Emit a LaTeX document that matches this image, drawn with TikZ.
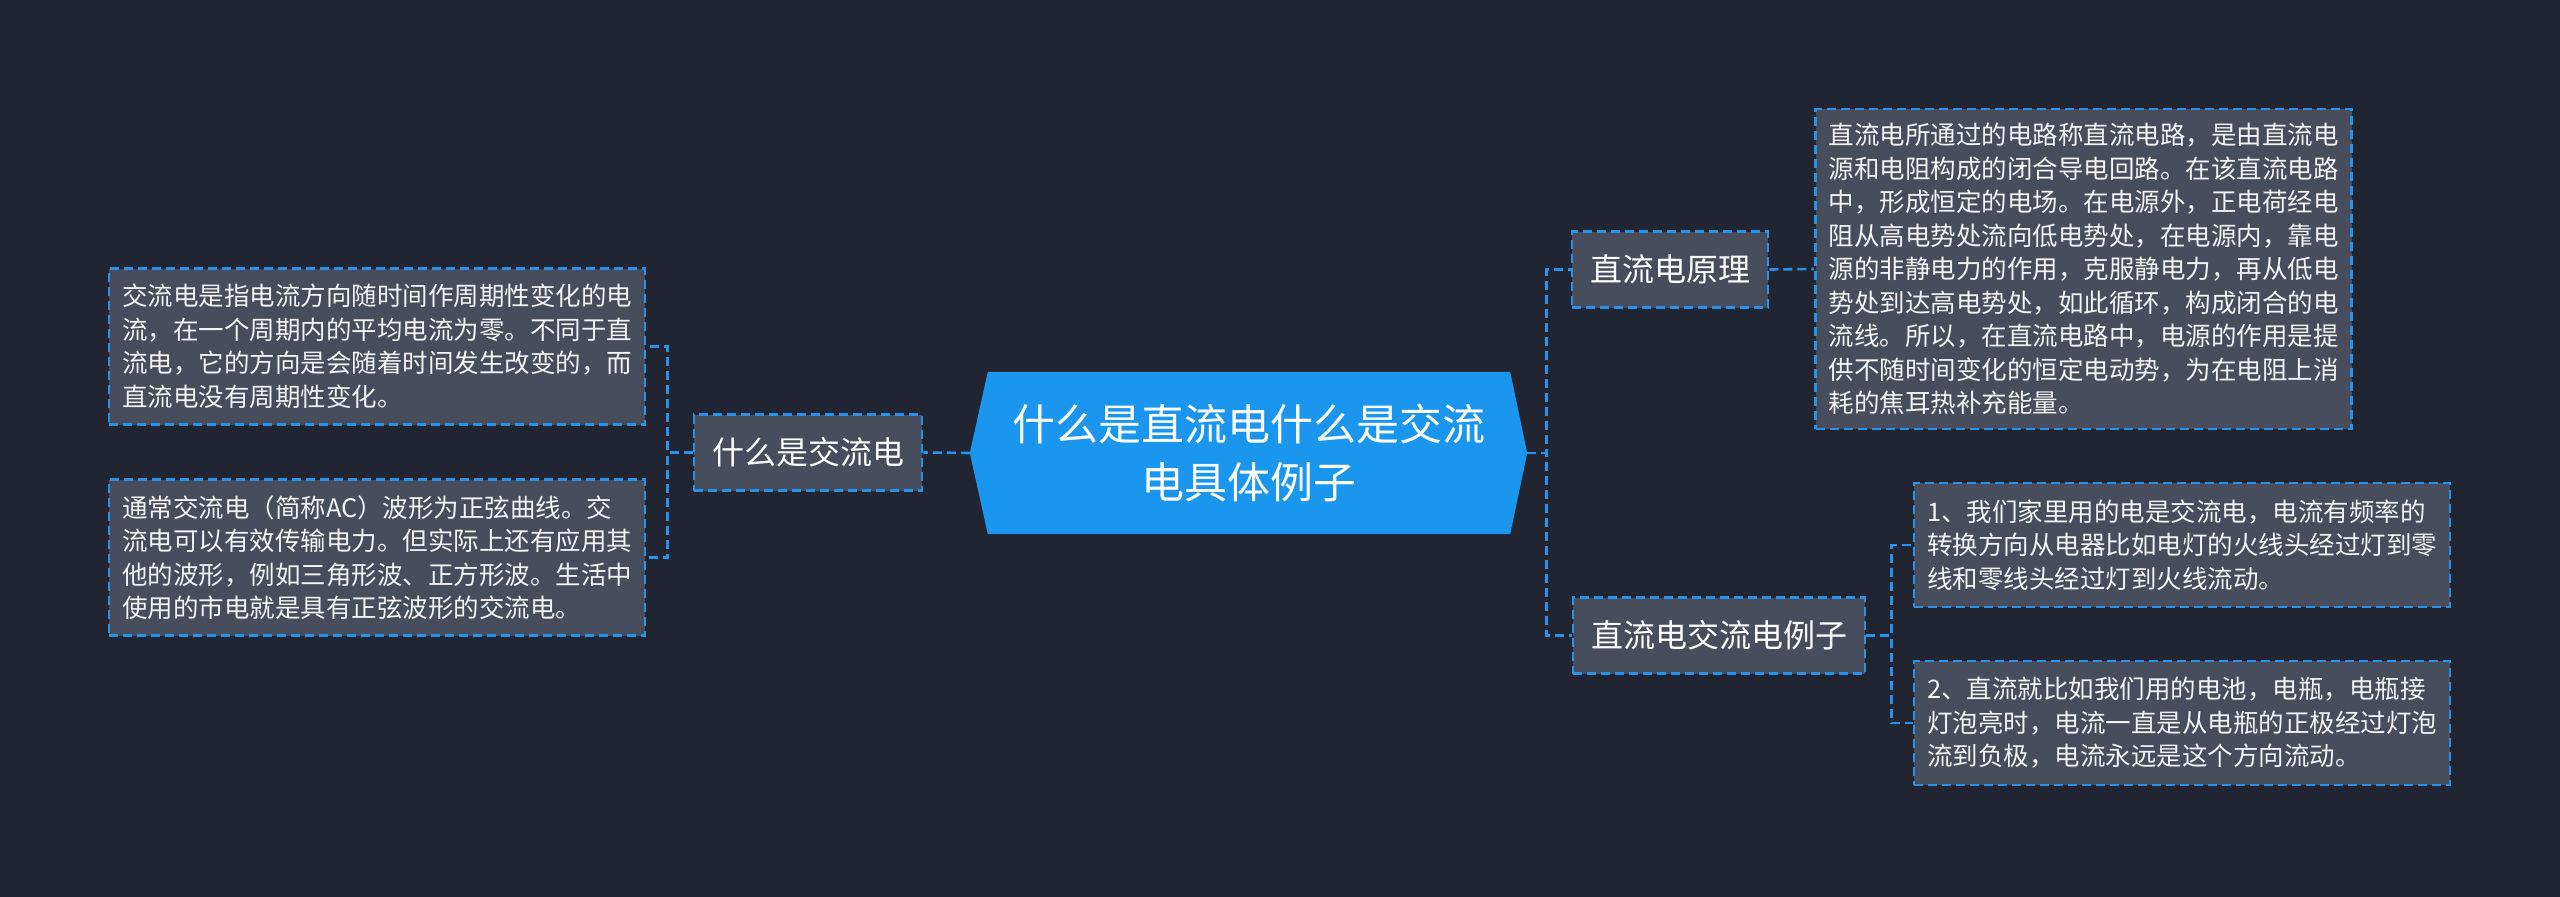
\documentclass[tikz,border=0pt]{standalone}
\usepackage{fontspec}
\newfontfamily\cjk{Noto Sans CJK SC}
\usetikzlibrary{calc}
\definecolor{bg}{HTML}{212532}
\definecolor{boxfill}{HTML}{474D5C}
\definecolor{edge}{HTML}{2593EA}
\definecolor{centerfill}{HTML}{1B96EF}
\definecolor{desctext}{HTML}{F4F4F4}
\pgfdeclarelayer{back}
\pgfdeclarelayer{mid}
\pgfsetlayers{back,mid,main}
\tikzset{
  dashborder/.style={draw=edge, line width=2.6pt, dash pattern=on 9pt off 5pt},
  descbox/.style={dashborder, fill=boxfill, text=desctext,
    font=\cjk\fontsize{25.5}{33.5}\selectfont, align=left,
    text width=510pt, inner xsep=13pt, inner ysep=0pt, minimum width=536pt},
  topicbox/.style={dashborder, fill=boxfill, text=white,
    font=\cjk\fontsize{32}{38}\selectfont, inner xsep=18pt, inner ysep=0pt,
    minimum height=76pt},
  conn/.style={draw=edge, line width=2.6pt, dash pattern=on 9pt off 5pt},
}
\begin{document}
\begin{tikzpicture}[x=1pt,y=-1pt]
\begin{pgfonlayer}{back}
\fill[bg] (0,0) rectangle (2560,897);
\end{pgfonlayer}
\useasboundingbox (0,0) rectangle (2560,897);

% central topic
\node[text=white, font=\cjk\fontsize{43}{58}\selectfont, align=center,
      minimum width=522pt, minimum height=162pt, inner sep=0pt] (c) at (1249,453)
      {什么是直流电什么是交流\\电具体例子};
\coordinate (cl) at ($(c.west)+(-18,0)$);
\coordinate (cr) at ($(c.east)+(17,0)$);
\begin{pgfonlayer}{mid}
\fill[centerfill] (c.north west) -- (c.north east) -- (cr) -- (c.south east)
   -- (c.south west) -- (cl) -- cycle;
\end{pgfonlayer}

% left branch
\node[topicbox] (lq) at (808,452.5) {什么是交流电};
\node[descbox, minimum height=156pt] (l1) at (377,346.5)
  {交流电是指电流方向随时间作周期性变化的电\\流，在一个周期内的平均电流为零。不同于直\\流电，它的方向是会随着时间发生改变的，而\\直流电没有周期性变化。};
\node[descbox, minimum height=156pt] (l2) at (377,557.5)
  {通常交流电（简称AC）波形为正弦曲线。交\\流电可以有效传输电力。但实际上还有应用其\\他的波形，例如三角形波、正方形波。生活中\\使用的市电就是具有正弦波形的交流电。};

% right branch
\node[topicbox] (r1) at (1670,269.5) {直流电原理};
\node[descbox, minimum height=320pt] (rb) at (2083.5,269)
  {直流电所通过的电路称直流电路，是由直流电\\源和电阻构成的闭合导电回路。在该直流电路\\中，形成恒定的电场。在电源外，正电荷经电\\阻从高电势处流向低电势处，在电源内，靠电\\源的非静电力的作用，克服静电力，再从低电\\势处到达高电势处，如此循环，构成闭合的电\\流线。所以，在直流电路中，电源的作用是提\\供不随时间变化的恒定电动势，为在电阻上消\\耗的焦耳热补充能量。};
\node[topicbox] (r2) at (1719,635.5) {直流电交流电例子};
\node[descbox, minimum height=124pt] (rs1) at (2182,545)
  {1、我们家里用的电是交流电，电流有频率的\\转换方向从电器比如电灯的火线头经过灯到零\\线和零线头经过灯到火线流动。};
\node[descbox, minimum height=124pt] (rs2) at (2182,723)
  {2、直流就比如我们用的电池，电瓶，电瓶接\\灯泡亮时，电流一直是从电瓶的正极经过灯泡\\流到负极，电流永远是这个方向流动。};

% connectors
\draw[conn] (cl) -- (lq.east);
\draw[conn] (lq.west) -- ++(-25,0) |- (l1.east);
\draw[conn] (lq.west) -- ++(-25,0) |- (l2.east);
\draw[conn] (cr) -- ++(19,0) |- (r1.west);
\draw[conn] (cr) -- ++(19,0) |- (r2.west);
\draw[conn] (r1.east) -- (rb.west);
\draw[conn] (r2.east) -- ++(25,0) |- (rs1.west);
\draw[conn] (r2.east) -- ++(25,0) |- (rs2.west);
\end{tikzpicture}
\end{document}
